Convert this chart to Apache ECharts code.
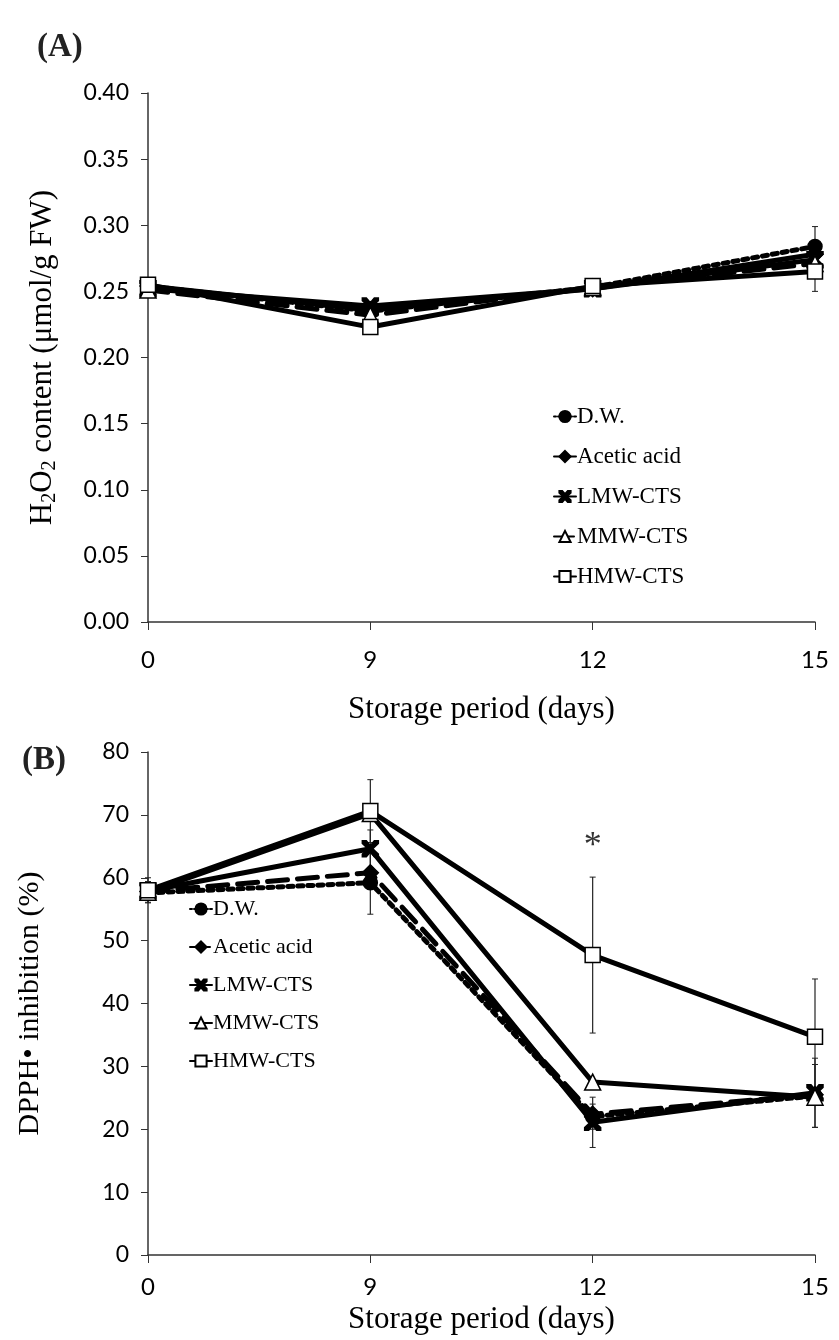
<!DOCTYPE html>
<html>
<head>
<meta charset="utf-8">
<script src="https://cdn.jsdelivr.net/npm/echarts@6/dist/echarts.min.js"></script>
<style>
  html, body { margin: 0; padding: 0; background: #fff; }
  #chartA { position: absolute; left: 0; top: 0; width: 839px; height: 730px; }
  #chartB { position: absolute; left: 0; top: 730px; width: 839px; height: 610px; }
</style>
</head>
<body>
<div id="chartA"></div>
<div id="chartB"></div>
<script>
// storage days (category axis)
var days = ['0', '9', '12', '15'];
var seriesNames = ['D.W.', 'Acetic acid', 'LMW-CTS', 'MMW-CTS', 'HMW-CTS'];

// (A) H2O2 content, umol/g FW
var h2o2DW     = [0.254, 0.235, 0.253, 0.284];
var h2o2Acetic = [0.254, 0.236, 0.252, 0.278];
var h2o2LMW    = [0.252, 0.239, 0.252, 0.274];
var h2o2MMW    = [0.251, 0.232, 0.253, 0.271];
var h2o2HMW    = [0.255, 0.223, 0.254, 0.265];
var h2o2ErrDW  = [0.003, 0.004, 0.003, 0.015];
var h2o2ErrHMW = [0.004, 0.004, 0.004, 0.015];
var h2o2Ticks  = { min: 0, max: 0.4, interval: 0.05 };

// (B) DPPH inhibition, %
var dpphDW     = [57.6, 59.2, 22.0, 25.3];
var dpphAcetic = [57.8, 60.8, 22.4, 25.5];
var dpphLMW    = [57.9, 64.6, 21.1, 25.8];
var dpphMMW    = [57.7, 70.2, 27.5, 25.1];
var dpphHMW    = [58.0, 70.6, 47.7, 34.7];
var dpphErrDW  = [1.5, 5.0, 2.0, 5.0];
var dpphErrLMW = [1.5, 3.0, 4.0, 5.5];
var dpphErrHMW = [2.0, 5.0, 12.4, 9.2];
var dpphTicks  = { min: 0, max: 80, interval: 10 };
var sigDay = '12', sigValue = 65;

var serif = 'Liberation Serif';
var sans = 'Lato';
var xSymbol = 'path://M0,0L3,0L6,3.6L9,0L12,0L12,2L7.8,6L12,10L12,12L9,12L6,8.4L3,12L0,12L0,10L4.2,6L0,2Z';

var styles = {
  'D.W.':        { symbol: 'circle', size: 14, fill: '#000', line: 'dotted' },
  'Acetic acid': { symbol: 'diamond', size: 16, fill: '#000', line: 'solid' },
  'LMW-CTS':     { symbol: xSymbol, size: 16, fill: '#000', line: 'solid' },
  'MMW-CTS':     { symbol: 'triangle', size: 16, fill: '#fff', line: 'dashed' },
  'HMW-CTS':     { symbol: 'rect', size: 15, fill: '#fff', line: 'solid' }
};

function lineSeries(name, data, lineType) {
  var s = styles[name];
  return {
    name: name, type: 'line', data: data,
    symbol: s.symbol, symbolSize: s.size,
    itemStyle: { color: s.fill, borderColor: '#000', borderWidth: 1.5 },
    lineStyle: { color: '#000', width: 5, type: lineType || s.line, cap: 'round' },
    z: 3
  };
}

function errorSeries(vals, errs) {
  var d = vals.map(function (v, i) { return [i, v - errs[i], v + errs[i]]; });
  return {
    type: 'custom', data: d, z: 2, silent: true,
    encode: { x: 0, y: [1, 2] },
    renderItem: function (params, api) {
      var lo = api.coord([api.value(0), api.value(1)]);
      var hi = api.coord([api.value(0), api.value(2)]);
      return {
        type: 'group',
        children: [
          { type: 'line', shape: { x1: lo[0], y1: lo[1], x2: hi[0], y2: hi[1] }, style: { stroke: '#222', lineWidth: 1.2 } },
          { type: 'line', shape: { x1: lo[0] - 3, y1: lo[1], x2: lo[0] + 3, y2: lo[1] }, style: { stroke: '#222', lineWidth: 1 } },
          { type: 'line', shape: { x1: hi[0] - 3, y1: hi[1], x2: hi[0] + 3, y2: hi[1] }, style: { stroke: '#222', lineWidth: 1 } }
        ]
      };
    }
  };
}

function baseOption(o) {
  return {
    animation: false,
    title: {
      text: o.title, left: o.titleLeft, top: o.titleTop,
      textStyle: { fontFamily: serif, fontSize: 33, fontWeight: 'bold', color: '#222' }
    },
    legend: {
      data: seriesNames, orient: 'vertical', left: o.legendLeft, top: o.legendTop,
      itemGap: o.legendGap, itemWidth: 22, itemHeight: 14,
      textStyle: { fontFamily: serif, fontSize: o.legendFont, color: '#000', padding: [0, 0, 0, -4] }
    },
    grid: { left: 148, right: 24, top: o.gridTop, bottom: o.gridBottom },
    xAxis: {
      type: 'category', data: days, boundaryGap: false,
      axisLine: { lineStyle: { color: '#333', width: 1.5 } },
      axisTick: { show: true, alignWithLabel: true, length: 8, inside: false, lineStyle: { color: '#333' } },
      axisLabel: { fontFamily: sans, fontSize: 24, color: '#000', margin: o.xLabelMargin },
      name: 'Storage period (days)', nameLocation: 'middle', nameGap: o.xNameGap,
      nameTextStyle: { fontFamily: serif, fontSize: 31, color: '#000' }
    },
    yAxis: {
      type: 'value', min: o.ticks.min, max: o.ticks.max, interval: o.ticks.interval,
      splitLine: { show: false },
      axisLine: { show: true, lineStyle: { color: '#333', width: 1.5 } },
      axisTick: { show: true, length: 7, lineStyle: { color: '#333' } },
      axisLabel: { fontFamily: sans, fontSize: 23, color: '#000', margin: 19, formatter: o.yFormat },
      name: o.yName, nameLocation: 'middle', nameGap: o.yNameGap,
      nameTextStyle: o.yNameStyle
    },
    series: o.series
  };
}

var chartA = echarts.init(document.getElementById('chartA'));
chartA.setOption(baseOption({
  title: '(A)', titleLeft: 32, titleTop: 26,
  legendLeft: 548, legendTop: 400, legendGap: 17, legendFont: 23,
  gridTop: 93, gridBottom: 107, xLabelMargin: 26, xNameGap: 72,
  ticks: h2o2Ticks,
  yFormat: function (v) { return v.toFixed(2); },
  yName: '{n|H}{s|2}{n|O}{s|2}{n| content (μmol/g FW)}', yNameGap: 88,
  yNameStyle: {
    rich: {
      n: { fontFamily: serif, fontSize: 31, color: '#000' },
      s: { fontFamily: serif, fontSize: 20, color: '#000', verticalAlign: 'bottom', padding: [14, 0, 0, 0] }
    }
  },
  series: [
    errorSeries(h2o2DW, h2o2ErrDW),
    errorSeries(h2o2HMW, h2o2ErrHMW),
    lineSeries('D.W.', h2o2DW),
    lineSeries('Acetic acid', h2o2Acetic),
    lineSeries('LMW-CTS', h2o2LMW),
    lineSeries('MMW-CTS', h2o2MMW),
    lineSeries('HMW-CTS', h2o2HMW)
  ]
}));

var chartB = echarts.init(document.getElementById('chartB'));
chartB.setOption(baseOption({
  title: '(B)', titleLeft: 17, titleTop: 9,
  legendLeft: 184, legendTop: 163, legendGap: 16, legendFont: 22,
  gridTop: 22, gridBottom: 84, xLabelMargin: 20, xNameGap: 49,
  ticks: dpphTicks,
  yFormat: '{value}',
  yName: 'DPPH• inhibition (%)', yNameGap: 103,
  yNameStyle: { fontFamily: serif, fontSize: 30, color: '#000' },
  series: [
    errorSeries(dpphDW, dpphErrDW),
    errorSeries(dpphLMW, dpphErrLMW),
    errorSeries(dpphHMW, dpphErrHMW),
    lineSeries('D.W.', dpphDW, 'dotted'),
    lineSeries('Acetic acid', dpphAcetic, 'dashed'),
    lineSeries('LMW-CTS', dpphLMW, 'solid'),
    lineSeries('MMW-CTS', dpphMMW, 'solid'),
    lineSeries('HMW-CTS', dpphHMW, 'solid'),
    {
      type: 'scatter', data: [[sigDay, sigValue]], symbolSize: 0, silent: true,
      label: { show: true, position: 'inside', formatter: '*', fontFamily: serif, fontSize: 36, color: '#000' }
    }
  ]
}));
</script>
</body>
</html>
